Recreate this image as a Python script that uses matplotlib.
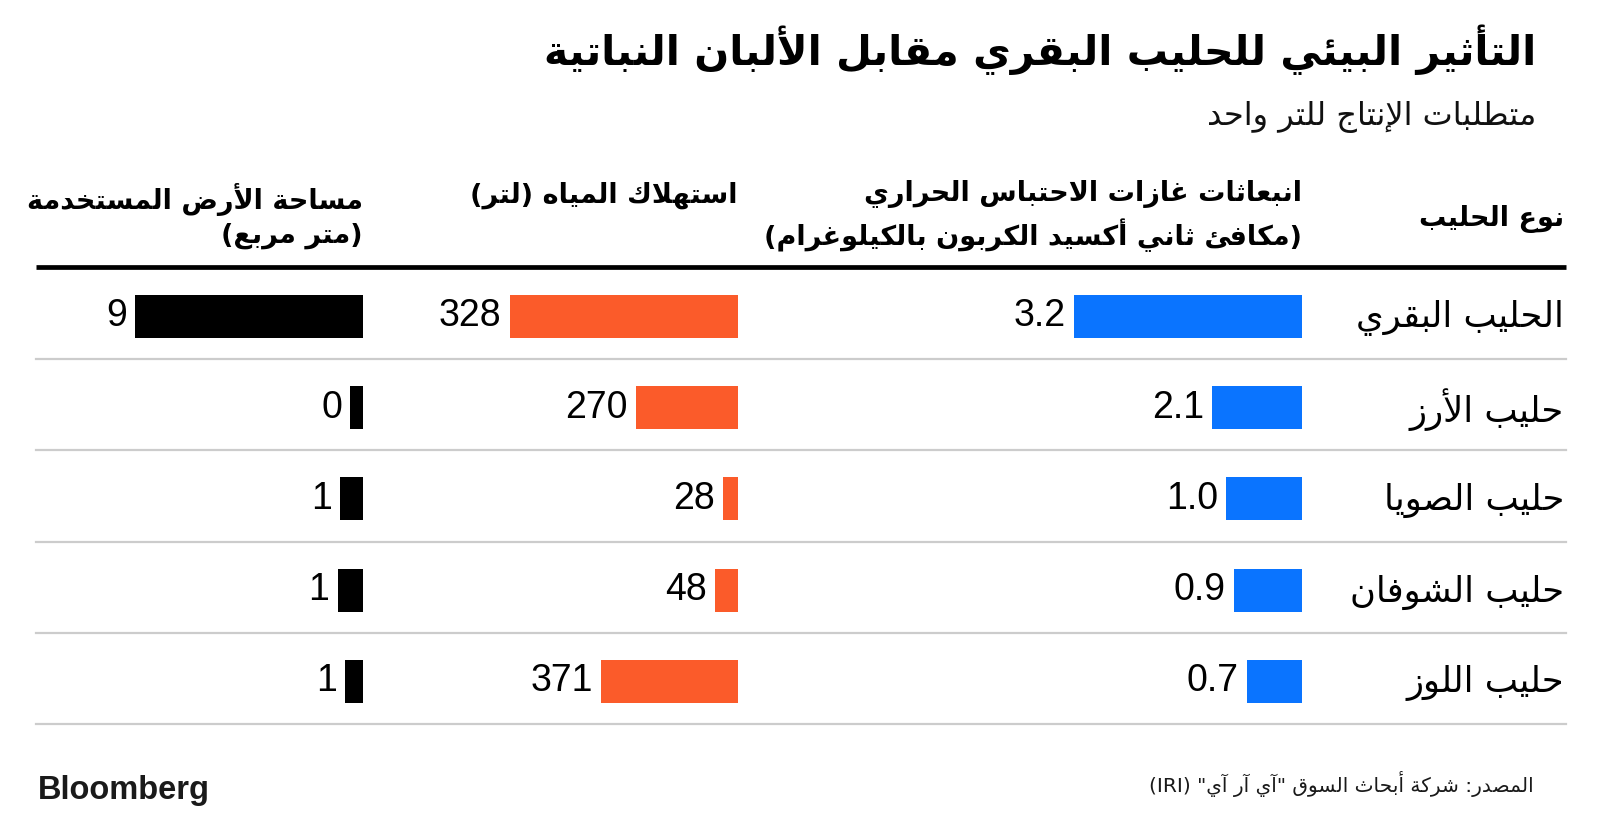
import re
import matplotlib
matplotlib.use('Agg')
import matplotlib.pyplot as plt

# data
milks = ['الحليب البقري', 'حليب الأرز', 'حليب الصويا', 'حليب الشوفان', 'حليب اللوز']
ghg_values = [3.2, 1.26, 1.06, 0.95, 0.77]
ghg_labels = ['3.2', '2.1', '1.0', '0.9', '0.7']
water_values = [628, 282, 42, 62, 376]
water_labels = ['328', '270', '28', '48', '371']
land_values = [9.0, 0.5, 0.9, 1.0, 0.71]
land_labels = ['9', '0', '1', '1', '1']

title = 'التأثير البيئي للحليب البقري مقابل الألبان النباتية'
subtitle = 'متطلبات الإنتاج للتر واحد'
head_milk = 'نوع الحليب'
head_ghg = 'انبعاثات غازات الاحتباس الحراري\n(مكافئ ثاني أكسيد الكربون بالكيلوغرام)'
head_water = 'استهلاك المياه (لتر)'
head_land = 'مساحة الأرض المستخدمة\n(متر مربع)'
source = 'المصدر: شركة أبحاث السوق "آي آر آي" (IRI)'

BLUE = '#0A74FF'
ORANGE = '#FB5B2A'

# matplotlib does no Arabic shaping, so map letters to presentation forms
RIGHT_JOIN = {'آ': 0xFE81, 'أ': 0xFE83, 'ؤ': 0xFE85, 'إ': 0xFE87, 'ا': 0xFE8D,
              'ة': 0xFE93, 'د': 0xFEA9, 'ذ': 0xFEAB, 'ر': 0xFEAD, 'ز': 0xFEAF,
              'و': 0xFEED, 'ى': 0xFEEF}
DUAL_JOIN = {'ئ': 0xFE89, 'ب': 0xFE8F, 'ت': 0xFE95, 'ث': 0xFE99, 'ج': 0xFE9D,
             'ح': 0xFEA1, 'خ': 0xFEA5, 'س': 0xFEB1, 'ش': 0xFEB5, 'ص': 0xFEB9,
             'ض': 0xFEBD, 'ط': 0xFEC1, 'ظ': 0xFEC5, 'ع': 0xFEC9, 'غ': 0xFECD,
             'ف': 0xFED1, 'ق': 0xFED5, 'ك': 0xFED9, 'ل': 0xFEDD, 'م': 0xFEE1,
             'ن': 0xFEE5, 'ه': 0xFEE9, 'ي': 0xFEF1}
LAM_ALEF = {'آ': 0xFEF5, 'أ': 0xFEF7, 'إ': 0xFEF9, 'ا': 0xFEFB}


def shape(text):
    items = []
    i = 0
    while i < len(text):
        c = text[i]
        if c == 'ل' and i + 1 < len(text) and text[i + 1] in LAM_ALEF:
            items.append(('la', LAM_ALEF[text[i + 1]]))
            i += 2
        else:
            items.append(('c', c))
            i += 1

    def dual(it):
        return it[0] == 'c' and it[1] in DUAL_JOIN

    def joins(it):
        return it[0] == 'la' or it[1] in DUAL_JOIN or it[1] in RIGHT_JOIN

    out = []
    for k, it in enumerate(items):
        prev = k > 0 and dual(items[k - 1]) and joins(it)
        nxt = k + 1 < len(items) and dual(it) and joins(items[k + 1])
        if it[0] == 'la':
            out.append(chr(it[1] + (1 if prev else 0)))
        elif it[1] in DUAL_JOIN:
            form = 3 if (prev and nxt) else 1 if prev else 2 if nxt else 0
            out.append(chr(DUAL_JOIN[it[1]] + form))
        elif it[1] in RIGHT_JOIN:
            out.append(chr(RIGHT_JOIN[it[1]] + (1 if prev else 0)))
        else:
            out.append(it[1])
    return ''.join(out)


def ar(text):
    lines = []
    for line in text.split('\n'):
        s = shape(line)[::-1].translate(str.maketrans('()', ')('))
        s = re.sub(r'[A-Za-z0-9.]+', lambda m: m.group(0)[::-1], s)
        lines.append(s)
    return '\n'.join(lines)


plt.rcParams['font.family'] = ['DejaVu Sans']

W, H = 1600, 823
fig = plt.figure(figsize=(W / 100, H / 100), dpi=100)


def px_rect(left, top, width, height):
    return [left / W, 1 - (top + height) / H, width / W, height / H]


# overlay in pixel coordinates for titles / header
over = fig.add_axes([0, 0, 1, 1])
over.set_xlim(0, W)
over.set_ylim(H, 0)
over.axis('off')

over.text(1536, 50, ar(title), ha='right', va='center', fontsize=29.6,
          fontweight='bold', color='black')
over.text(1536, 117, ar(subtitle), ha='right', va='center', fontsize=23,
          color='#111111')

hdr = dict(va='center', fontsize=19.5, fontweight='bold', color='black',
           multialignment='right', linespacing=1.36)
over.text(1564, 219, ar(head_milk), ha='right', **hdr)
over.text(1302, 216, ar(head_ghg), ha='right', **hdr)
over.text(738, 195, ar(head_water), ha='right', **hdr)
over.text(363, 216, ar(head_land), ha='right', **hdr)
over.plot([36, 1566], [267, 267], color='black', lw=3.4, solid_capstyle='butt')

over.text(1534, 784, ar(source), ha='right', va='center', fontsize=14.5,
          color='#1a1a1a')
over.text(38, 791, 'Bloomberg', ha='left', va='center', fontsize=23.5,
          fontweight='bold', family='Liberation Sans', color='#1a1a1a')

# table rows
n = len(milks)
row_top, row_h = 270.6, 91.3
tab = fig.add_axes(px_rect(0, row_top, W, row_h * n))
tab.set_xlim(0, W)
tab.set_ylim(n - 0.5, -0.5)
tab.axis('off')
for i, name in enumerate(milks):
    tab.text(1564, i + 0.02, ar(name), ha='right', va='center', fontsize=25.5,
             color='black')
    tab.plot([36, 1566], [i + 0.47, i + 0.47], color='#cccccc', lw=1.6)

bar_w = 228
columns = [
    (1302, ghg_values, ghg_labels, BLUE),
    (738, water_values, water_labels, ORANGE),
    (363, land_values, land_labels, 'black'),
]
for right, values, labels, color in columns:
    ax = fig.add_axes(px_rect(right - bar_w, row_top, bar_w, row_h * n))
    ax.barh(range(n), values, height=0.47, color=color)
    ax.set_xlim(max(values), 0)
    ax.set_ylim(n - 0.5, -0.5)
    ax.axis('off')
    for i, (v, lab) in enumerate(zip(values, labels)):
        ax.annotate(lab, (v, i), xytext=(-6, 0), textcoords='offset points',
                    ha='right', va='center', fontsize=27,
                    family='Liberation Sans', color='black',
                    annotation_clip=False)

fig.savefig('out.png', dpi=100)
